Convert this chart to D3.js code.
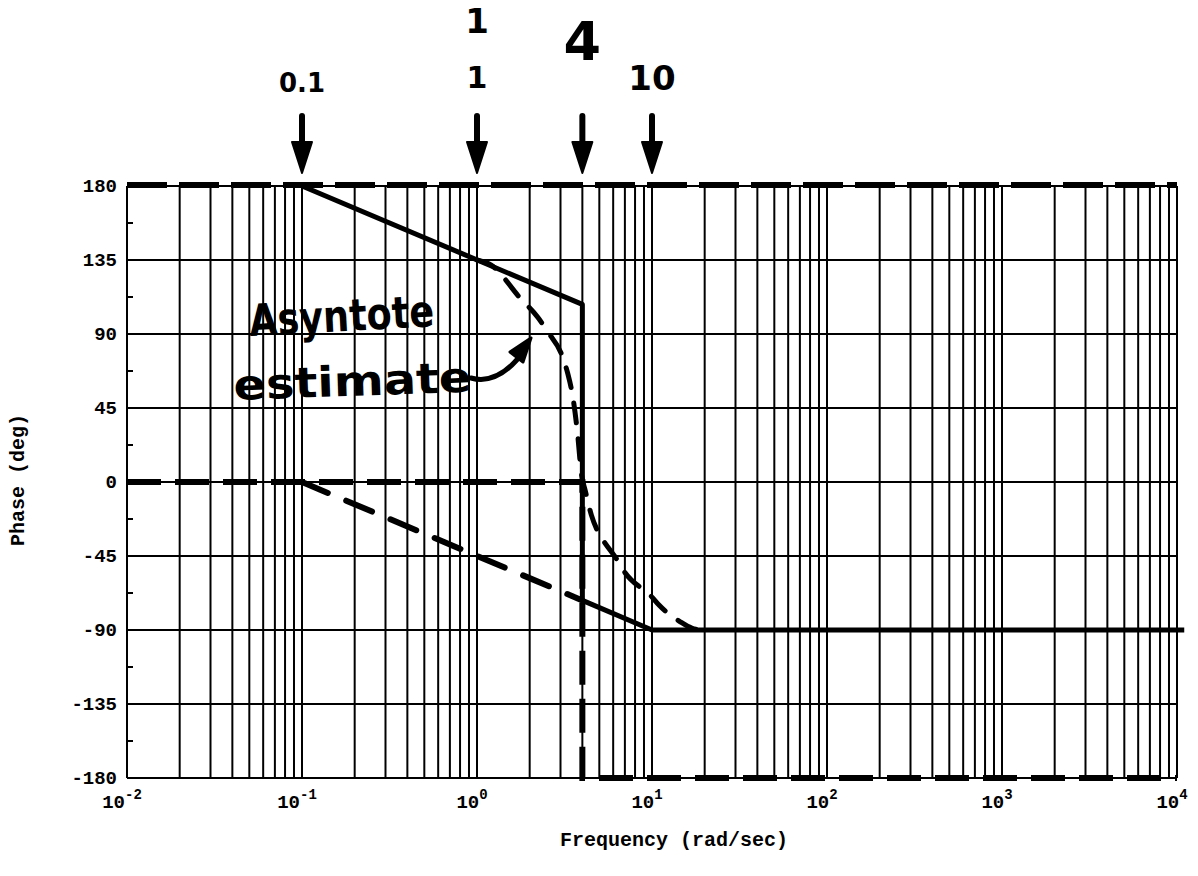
<!DOCTYPE html>
<html>
<head>
<meta charset="utf-8">
<script src="https://cdn.jsdelivr.net/npm/d3@7"></script>
<style>
  html, body { margin: 0; padding: 0; background: #fff; }
  svg { display: block; }
</style>
</head>
<body>
<svg id="chart" width="1198" height="876"></svg>
<script>
// ---------- data ----------
const xDomain = [1e-2, 1e4];
const yDomain = [-180, 180];
const yTicks = [-180, -135, -90, -45, 0, 45, 90, 135, 180];
const yMinorTicks = [-157.5, -112.5, -67.5, -22.5, 22.5, 67.5, 112.5, 157.5];
const xTickExponents = [-2, -1, 0, 1, 2, 3, 4];

// printed (computer) curves
const printedTop = [[1e-2, 180], [1e4, 180]];
const printedLower = [[1e-2, 0], [4, 0], [4, -180], [1e4, -180]];

// hand-drawn asymptote and estimated curve
const asymptoteSolid = [[0.1, 180], [4, 108], [4, -72], [10, -90], [1.1e4, -90]];
const asymptoteDashed = [[0.1, 0], [4, -72]];
const actualCurve = [[1, 135], [1.2, 132], [1.76, 112], [2.23, 100], [2.55, 91], [3.06, 77],
  [3.3, 66], [3.55, 50], [3.75, 30], [3.95, 5], [4.15, -5], [4.5, -20], [4.9, -30],
  [5.3, -36], [6.2, -46], [7, -55], [10, -70], [11, -75], [14.5, -85], [17, -89], [19, -90]];

// top annotations
const markers = [
  { w: 0.1, label: "0.1", size: 26, dy: -94 },
  { w: 1, label: "1", size: 30, dy: -98 },
  { w: 4, label: "4", size: 54, dy: -126 },
  { w: 10, label: "10", size: 34, dy: -96 }
];

// ---------- layout ----------
const svg = d3.select("#chart");
const x = d3.scaleLog().domain(xDomain).range([127, 1177]);
const y = d3.scaleLinear().domain(yDomain).range([778, 186]);
const line = d3.line().x(d => x(d[0])).y(d => y(d[1]));

const monoFont = "'Liberation Mono', 'DejaVu Sans Mono', monospace";
const handFont = "'DejaVu Sans', 'Noto Sans', sans-serif";

// vertical gridlines
const g = svg.append("g");
g.selectAll("line.vgrid")
  .data(x.ticks())
  .join("line")
  .attr("x1", d => x(d)).attr("x2", d => x(d))
  .attr("y1", y(180)).attr("y2", y(-180))
  .attr("stroke", "#000").attr("stroke-width", 2);

// horizontal gridlines
g.selectAll("line.hgrid")
  .data(yTicks)
  .join("line")
  .attr("x1", x(1e-2)).attr("x2", x(1e4))
  .attr("y1", d => y(d)).attr("y2", d => y(d))
  .attr("stroke", "#000").attr("stroke-width", 2);

// minor ticks on left axis
g.selectAll("line.minor")
  .data(yMinorTicks)
  .join("line")
  .attr("x1", x(1e-2)).attr("x2", x(1e-2) + 6)
  .attr("y1", d => y(d)).attr("y2", d => y(d))
  .attr("stroke", "#000").attr("stroke-width", 2);

// y tick labels
svg.append("g").selectAll("text")
  .data(yTicks)
  .join("text")
  .attr("x", 117).attr("y", d => y(d) + 6)
  .attr("text-anchor", "end")
  .attr("font-family", monoFont).attr("font-weight", "bold").attr("font-size", 19)
  .text(d => d);

// x tick labels
const xl = svg.append("g").selectAll("text")
  .data(xTickExponents)
  .join("text")
  .attr("x", d => x(Math.pow(10, d)) - 5).attr("y", 808)
  .attr("text-anchor", "middle")
  .attr("font-family", monoFont).attr("font-weight", "bold").attr("font-size", 19);
xl.append("tspan").text("10");
xl.append("tspan").attr("dy", -9).attr("font-size", 14).text(d => d);

// axis titles
svg.append("text")
  .attr("x", 674).attr("y", 846)
  .attr("text-anchor", "middle")
  .attr("font-family", monoFont).attr("font-weight", "bold").attr("font-size", 20)
  .text("Frequency (rad/sec)");
svg.append("text")
  .attr("transform", "translate(24,480) rotate(-90)")
  .attr("text-anchor", "middle")
  .attr("font-family", monoFont).attr("font-weight", "bold").attr("font-size", 20)
  .text("Phase (deg)");

// printed dashed curves
svg.append("path").datum(printedTop).attr("d", line)
  .attr("fill", "none").attr("stroke", "#000").attr("stroke-width", 6)
  .attr("stroke-dasharray", "40 12").attr("transform", "translate(0,-1)");
svg.append("path").datum(printedLower).attr("d", line)
  .attr("fill", "none").attr("stroke", "#000").attr("stroke-width", 6)
  .attr("stroke-dasharray", "34 14");

// hand-drawn asymptotes
svg.append("path").datum(asymptoteSolid).attr("d", line)
  .attr("fill", "none").attr("stroke", "#000").attr("stroke-width", 5)
  .attr("stroke-linejoin", "round");
svg.append("path").datum(asymptoteDashed).attr("d", line)
  .attr("fill", "none").attr("stroke", "#000").attr("stroke-width", 6)
  .attr("stroke-linecap", "round").attr("stroke-dasharray", "28 20");
svg.append("path").datum(actualCurve).attr("d", line.curve(d3.curveMonotoneX))
  .attr("fill", "none").attr("stroke", "#000").attr("stroke-width", 5)
  .attr("stroke-linecap", "round").attr("stroke-dasharray", "20 16");

// top arrows and labels
const mk = svg.append("g").selectAll("g").data(markers).join("g")
  .attr("transform", d => `translate(${x(d.w)},${y(180)})`);
mk.append("line").attr("x1", 0).attr("x2", 0).attr("y1", -70).attr("y2", -40)
  .attr("stroke", "#000").attr("stroke-width", 6).attr("stroke-linecap", "round");
mk.append("path").attr("d", "M-10,-44 L10,-44 L0,-13 Z").attr("fill", "#000")
  .attr("stroke", "#000").attr("stroke-width", 2).attr("stroke-linejoin", "round");
mk.append("text").attr("x", 0).attr("y", d => d.dy)
  .attr("text-anchor", "middle")
  .attr("font-family", handFont).attr("font-weight", "bold")
  .attr("font-size", d => d.size)
  .text(d => d.label);
// extra "1" above the 1
svg.append("text").attr("x", x(1)).attr("y", 33)
  .attr("text-anchor", "middle")
  .attr("font-family", handFont).attr("font-weight", "bold").attr("font-size", 34)
  .text("1");

// handwritten annotation
svg.append("text").attr("x", 250).attr("y", 336)
  .attr("font-family", handFont).attr("font-weight", "bold").attr("font-size", 44)
  .attr("textLength", 185).attr("lengthAdjust", "spacingAndGlyphs")
  .attr("transform", "rotate(-3,250,336)")
  .text("Asyntote");
svg.append("text").attr("x", 234).attr("y", 400)
  .attr("font-family", handFont).attr("font-weight", "bold").attr("font-size", 42)
  .attr("textLength", 238).attr("lengthAdjust", "spacingAndGlyphs")
  .attr("transform", "rotate(-2,234,400)")
  .text("estimate");
// arrow from annotation to curve
svg.append("path").attr("d", "M471,378 Q500,386 526,348")
  .attr("fill", "none").attr("stroke", "#000").attr("stroke-width", 5).attr("stroke-linecap", "round");
svg.append("path").attr("d", "M531,338 L510,352 L523,362 Z")
  .attr("fill", "#000").attr("stroke", "#000").attr("stroke-width", 3).attr("stroke-linejoin", "round");
</script>
</body>
</html>
